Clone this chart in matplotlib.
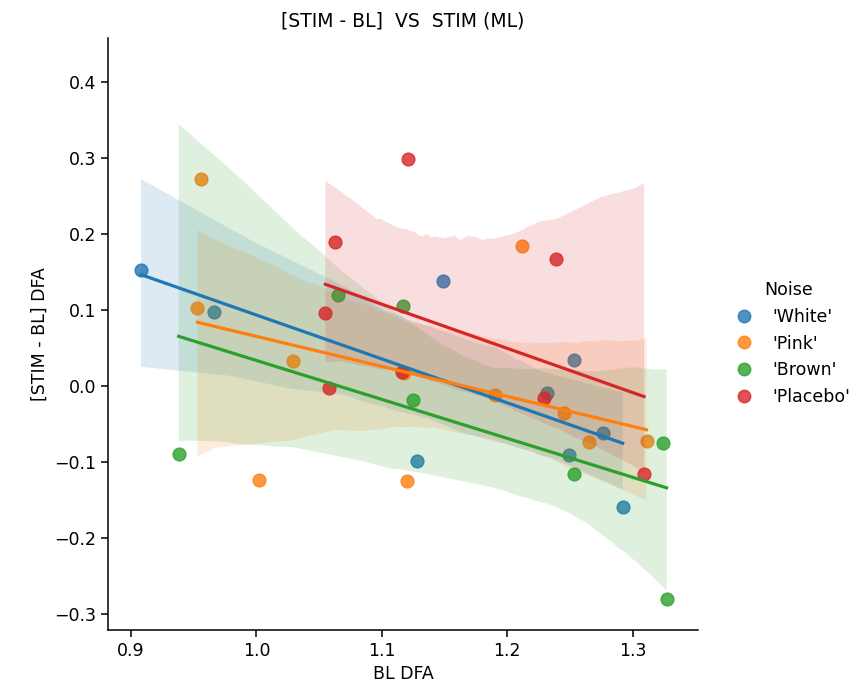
import numpy as np
import matplotlib
matplotlib.use("Agg")
import matplotlib.pyplot as plt
import seaborn as sns

# valores (BL DFA, [STIM - BL] DFA) para cada ruído
white_x = [0.908, 0.966, 1.149, 1.128, 1.253, 1.232, 1.249, 1.276, 1.292]
white_y = [0.153, 0.097, 0.138, -0.099, 0.034, -0.009, -0.091, -0.062, -0.159]

pink_x = [0.956, 0.953, 1.029, 1.002, 1.120, 1.212, 1.118, 1.190, 1.245, 1.265, 1.311]
pink_y = [0.272, 0.103, 0.033, -0.124, -0.125, 0.184, 0.017, -0.012, -0.036, -0.074, -0.072]

brown_x = [0.938, 1.065, 1.117, 1.125, 1.253, 1.324, 1.327]
brown_y = [-0.089, 0.120, 0.105, -0.018, -0.116, -0.075, -0.280]

placebo_x = [1.121, 1.063, 1.055, 1.058, 1.116, 1.239, 1.229, 1.309]
placebo_y = [0.299, 0.189, 0.096, -0.003, 0.019, 0.167, -0.016, -0.116]

labels = ["'White'", "'Pink'", "'Brown'", "'Placebo'"]
colors = ['#1f77b4', '#ff7f0e', '#2ca02c', '#d62728']
groups = [(white_x, white_y), (pink_x, pink_y), (brown_x, brown_y), (placebo_x, placebo_y)]
seeds = [3, 11, 7, 2]  # semente do bootstrap de cada grupo

plt.rcParams['font.family'] = ['DejaVu Sans']
plt.rcParams['font.size'] = 12.5

fig = plt.figure(figsize=(8.62, 6.94), dpi=100)
ax = fig.add_axes([0.1253, 0.0922, 0.6844, 0.853])

# uma regressão por grupo, igual ao lmplot com hue
for (xs, ys), label, color, seed in zip(groups, labels, colors, seeds):
    sns.regplot(x=np.array(xs), y=np.array(ys), ax=ax, color=color, truncate=True,
                seed=seed, scatter_kws={'s': 85}, line_kws={'lw': 2.3}, label=label)

ax.set_xlim(0.8817, 1.352)
ax.set_ylim(-0.321, 0.458)
ax.set_xticks([0.9, 1.0, 1.1, 1.2, 1.3])
ax.set_yticks([-0.3, -0.2, -0.1, 0.0, 0.1, 0.2, 0.3, 0.4])
ax.tick_params(labelsize=12.5, length=5, width=1.1)
for side in ['top', 'right']:
    ax.spines[side].set_visible(False)
for side in ['left', 'bottom']:
    ax.spines[side].set_linewidth(1.1)

ax.set_xlabel('BL DFA', fontsize=12.5)
ax.set_ylabel('[STIM - BL] DFA', fontsize=12.5)
ax.set_title('[STIM - BL]  VS  STIM (ML)', fontsize=13.5, pad=8)

# legenda fora do eixo, à direita
handles = [plt.Line2D([], [], marker='o', linestyle='', color=c, alpha=0.8, markersize=9)
           for c in colors]
fig.legend(handles, labels, title='Noise', loc='center left', bbox_to_anchor=(0.825, 0.505),
           frameon=False, fontsize=12.5, title_fontsize=12.5, handletextpad=0.6)

fig.savefig('out.png', dpi=100)
